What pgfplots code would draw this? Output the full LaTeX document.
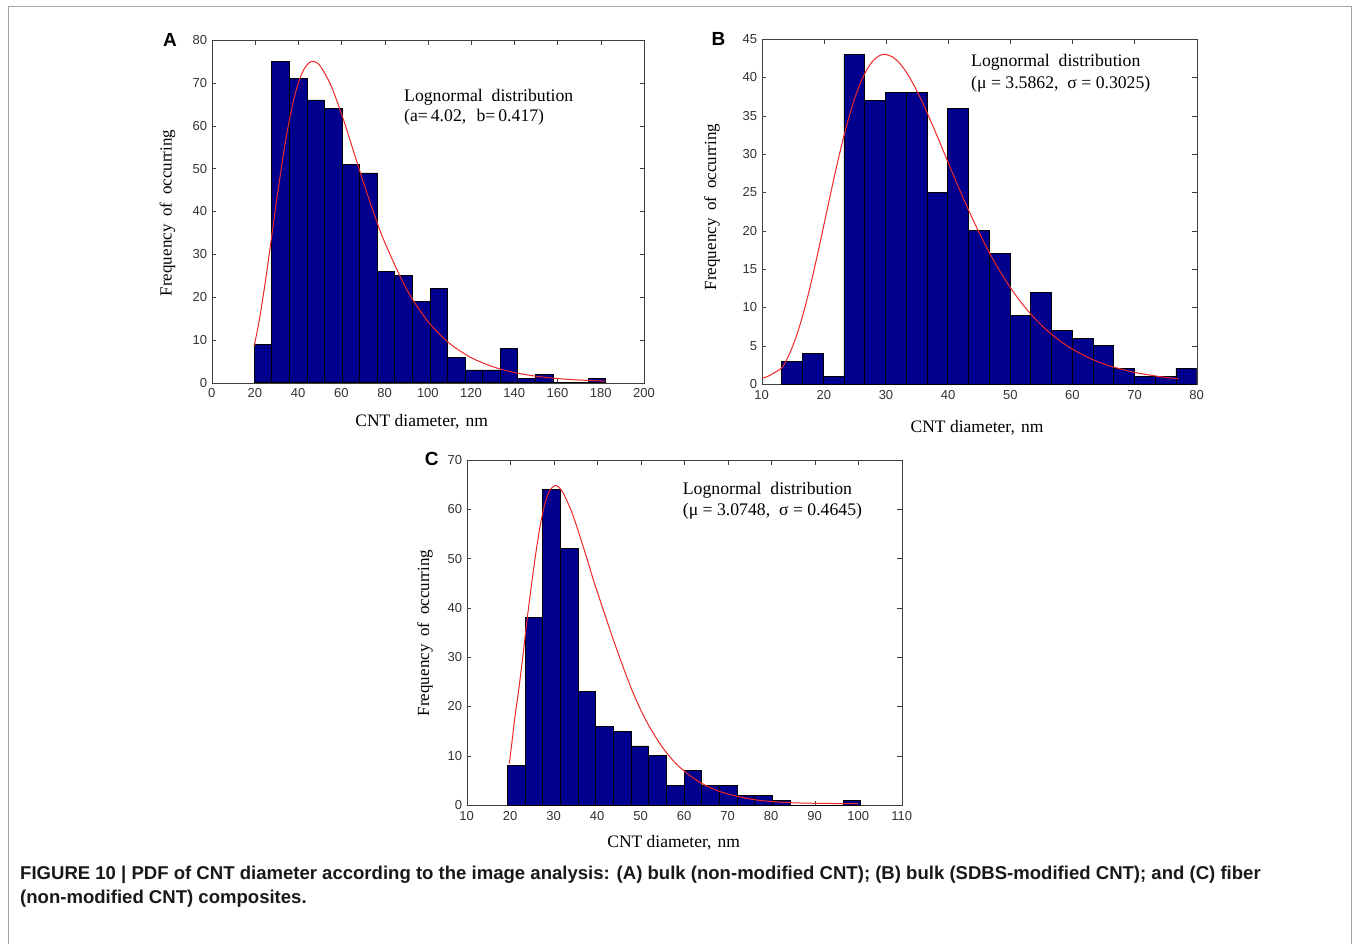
\documentclass[border=0pt]{standalone}
\usepackage{pgfplots}
\pgfplotsset{compat=1.18}
\usepackage{fontspec}
\setmainfont{Liberation Serif}
\newfontfamily\sans{Liberation Sans}
\definecolor{barblue}{RGB}{0,0,140}
\definecolor{fitred}{RGB}{238,40,40}
\pgfplotsset{
  histaxis/.style={
    scale only axis,
    axis line style={black!75},
    tick style={black!75},
    tick align=inside,
    major tick length=4.5pt,
    tick label style={font=\sans\fontsize{13}{13}\selectfont, text=black!80},
    xticklabel style={yshift=-2.5pt},
    yticklabel style={xshift=-1pt},
    /pgf/number format/assume math mode=true,
    enlargelimits=false,
    anchor=south west,
  },
  bars/.style={ybar interval, fill=barblue, draw=black, line width=0.6pt},
  fit/.style={fitred, line width=1pt, smooth, no markers},
}
\begin{document}
\begin{tikzpicture}
\useasboundingbox (0,0) rectangle (1356pt,-943pt);
\fill[white] (0,0) rectangle (1356pt,-943pt);
\draw[black!35, line width=1pt] (8pt,-950pt) -- (8pt,-6pt) -- (1351.7pt,-6pt) -- (1351.7pt,-950pt);

% ---------------- Panel A ----------------
\begin{axis}[histaxis, at={(211.7pt,-382.7pt)}, width=432.3pt, height=342.7pt,
  xmin=0, xmax=200, ymin=0, ymax=80,
  xtick={0,20,...,200}, ytick={0,10,...,80}]
\addplot[bars] coordinates {
(19.6,9) (27.7,75) (35.9,71) (44.0,66) (52.1,64) (60.3,51) (68.4,49) (76.5,26)
(84.7,25) (92.8,19) (101.0,22) (109.1,6) (117.2,3) (125.4,3) (133.5,8) (141.6,1)
(149.8,2) (157.9,0) (166.0,0) (174.2,1) (182.3,1)};
\addplot[fit] coordinates {
(19.6,8.48) (22,14.56) (25,24.20) (27.5,33.24) (30,42.45) (33,52.78) (35,58.81)
(37.5,65.10) (40,69.86) (42.5,73.0) (45,74.66) (47,74.99) (50,74.07) (55,69.59)
(60,62.82) (65,55.02) (70,47.08) (75,39.59) (80,32.84) (90,21.95) (100,14.31)
(110,9.19) (120,5.87) (130,3.74) (140,2.38) (150,1.52) (160,0.97) (170,0.63) (182,0.37)};
\end{axis}

% ---------------- Panel B ----------------
\begin{axis}[histaxis, at={(761.7pt,-384pt)}, width=435pt, height=345pt,
  xmin=10, xmax=80, ymin=0, ymax=45,
  xtick={10,20,...,80}, ytick={0,5,...,45}]
\addplot[bars] coordinates {
(13.2,3) (16.54,4) (19.88,1) (23.22,43) (26.56,37) (29.9,38) (33.24,38) (36.58,25)
(39.92,36) (43.26,20) (46.6,17) (49.94,9) (53.28,12) (56.62,7) (59.96,6) (63.3,5)
(66.64,2) (69.98,1) (73.32,1) (76.66,2) (80.0,2)};
\addplot[fit] coordinates {
(10,0.75) (11,1.0) (12,1.45) (13.2,2.1) (14,3.13) (15,4.95) (16,7.29) (17,10.13)
(18,13.40) (19,16.98) (20,20.73) (21,24.51) (22,28.19) (23,31.61) (24,34.68)
(25,37.33) (26,39.48) (27,41.12) (28,42.24) (29,42.85) (29.8,43.0) (31,42.69)
(32,42.01) (33,41.00) (34,39.70) (35,38.18) (36,36.50) (38,32.79) (40,28.90)
(42,25.05) (44,21.43) (46,18.11) (48,15.16) (50,12.59) (52,10.37) (54,8.50)
(56,6.93) (58,5.62) (60,4.55) (63,3.29) (66,2.36) (70,1.52) (74,0.97) (77,0.69)};
\end{axis}

% ---------------- Panel C ----------------
\begin{axis}[histaxis, at={(466.7pt,-805pt)}, width=435pt, height=345pt,
  xmin=10, xmax=110, ymin=0, ymax=70,
  xtick={10,20,...,110}, ytick={0,10,...,70}]
\addplot[bars] coordinates {
(19.35,8) (23.41,38) (27.47,64) (31.53,52) (35.59,23) (39.66,16) (43.72,15) (47.78,12)
(51.84,10) (55.90,4) (59.96,7) (64.02,4) (68.08,4) (72.14,2) (76.20,2) (80.27,1)
(84.33,0) (88.39,0) (92.45,0) (96.51,1) (100.57,1)};
\addplot[fit] coordinates {
(19.8,8.4) (20.5,13.5) (21,17.3) (22,23.7) (23,30.9) (24,38.5) (25,45.4) (26,51.8)
(27,57.2) (28,61.2) (29,63.7) (30.2,64.8) (31,64.6) (32,63.6) (33,61.8) (34,59.8)
(35,57.3) (36,54.6) (37,51.8) (38,49.0) (39,46.0) (40,43.3) (42,38.0) (44,32.8)
(46,27.9) (48,23.3) (50,19.3) (52,15.9) (55,11.7) (58,8.5) (61,6.2) (64,4.4)
(68,2.8) (72,1.8) (76,1.1) (80,0.71) (85,0.45) (90,0.35) (95,0.3) (100,0.3)};
\end{axis}

% ---------------- Texts ----------------
\begin{scope}[every node/.style={inner sep=0pt}]
\node[font=\sans\bfseries\fontsize{19}{19}\selectfont] at (170pt,-39.5pt) {A};
\node[font=\sans\bfseries\fontsize{19}{19}\selectfont] at (718.5pt,-39pt) {B};
\node[font=\sans\bfseries\fontsize{19}{19}\selectfont] at (431.7pt,-459pt) {C};

\node[font=\fontsize{17.5}{18}\selectfont] at (421.7pt,-422pt) {CNT diameter,\hspace{0.35em}nm};
\node[font=\fontsize{17.5}{18}\selectfont] at (977pt,-428pt) {CNT diameter,\hspace{0.35em}nm};
\node[font=\fontsize{17.5}{18}\selectfont] at (673.7pt,-843pt) {CNT diameter,\hspace{0.35em}nm};

\node[rotate=90, font=\fontsize{17}{18}\selectfont] at (167.5pt,-213pt) {Frequency\hspace{0.45em}of\hspace{0.45em}occurring};
\node[rotate=90, font=\fontsize{17}{18}\selectfont] at (712pt,-207pt) {Frequency\hspace{0.45em}of\hspace{0.45em}occurring};
\node[rotate=90, font=\fontsize{17}{18}\selectfont] at (425pt,-633pt) {Frequency\hspace{0.45em}of\hspace{0.45em}occurring};

\node[anchor=base west, font=\fontsize{17.7}{18}\selectfont] at (404pt,-101pt) {Lognormal\hspace{0.5em}distribution};
\node[anchor=base west, font=\fontsize{17.7}{18}\selectfont] at (404pt,-121.7pt) {(a=\,4.02,\,\, b=\,0.417)};
\node[anchor=base west, font=\fontsize{17.7}{18}\selectfont] at (971pt,-66.7pt) {Lognormal\hspace{0.5em}distribution};
\node[anchor=base west, font=\fontsize{17.7}{18}\selectfont] at (971pt,-88.3pt) {(μ = 3.5862, \ σ = 0.3025)};
\node[anchor=base west, font=\fontsize{17.7}{18}\selectfont] at (682.7pt,-494.3pt) {Lognormal\hspace{0.5em}distribution};
\node[anchor=base west, font=\fontsize{17.7}{18}\selectfont] at (682.7pt,-515pt) {(μ = 3.0748, \ σ = 0.4645)};

\node[anchor=base west, font=\sans\bfseries\fontsize{18.55}{20}\selectfont, text=black!90] at (20pt,-879pt) {FIGURE 10 | PDF of CNT diameter according to the image analysis: (A) bulk (non-modified CNT); (B) bulk (SDBS-modified CNT); and (C) fiber};
\node[anchor=base west, font=\sans\bfseries\fontsize{18.55}{20}\selectfont, text=black!90] at (20pt,-903pt) {(non-modified CNT) composites.};
\end{scope}
\end{tikzpicture}
\end{document}
